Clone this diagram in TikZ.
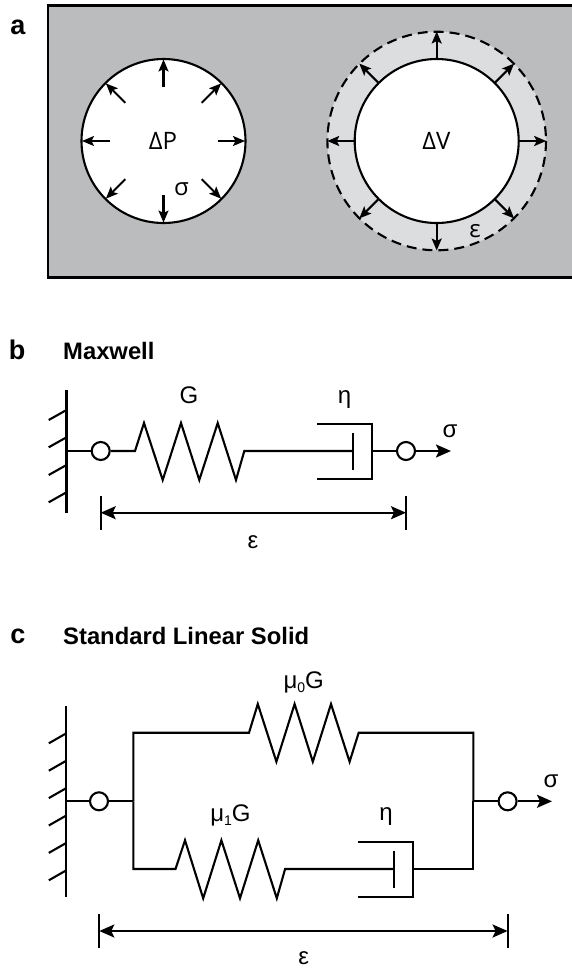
\documentclass[tikz,border=0pt]{standalone}
\usepackage{fontspec}
\setmainfont{Liberation Sans}
\newfontfamily\softfont{Open Sans}
\usetikzlibrary{arrows.meta,calc}
\definecolor{matrixgray}{HTML}{BBBCBE}
\definecolor{ringgray}{HTML}{DCDDDF}
\tikzset{
  ln/.style={line width=2.1pt,black,line join=miter},
  hinge/.style={circle,draw=black,line width=2.1pt,fill=white,minimum size=18pt,inner sep=0pt},
  small arrow/.style={ln,-{Stealth[length=12pt,width=10pt,inset=2.5pt]}},
  big arrow/.style={ln,-{Stealth[length=15pt,width=13pt,inset=3pt]}},
  both arrow/.style={ln,{Stealth[length=15pt,width=13pt,inset=3pt]}-{Stealth[length=15pt,width=13pt,inset=3pt]}},
  panel/.style={font=\fontsize{27}{27}\selectfont\bfseries,inner sep=0pt},
  head/.style={font=\fontsize{23.8}{24}\selectfont\bfseries,inner sep=0pt,anchor=west},
  lab/.style={font=\fontsize{24}{24}\selectfont,inner sep=0pt},
  softlab/.style={font=\fontsize{24}{24}\softfont,inner sep=0pt}
}
\begin{document}
\begin{tikzpicture}[x=1pt,y=-1pt]
\useasboundingbox (0,0) rectangle (571,970);
\fill[white] (0,0) rectangle (571,970);
% ---------- panel a
\node[panel] (la) at (18,27) {a};
\draw[line width=2.4pt,fill=matrixgray] (48,5.5) rectangle (575,277.5);
\coordinate (c1) at (163.5,141);
\coordinate (c2) at (436.7,141);
\fill[ringgray] (c2) circle[radius=109.3];
\draw[line width=2.1pt,dash pattern=on 10pt off 6pt] (c2) circle[radius=109.3];
\draw[ln,fill=white] (c1) circle[radius=82];
\draw[ln,fill=white] (c2) circle[radius=82];
\foreach \a in {0,45,...,315}{
  \draw[small arrow] ($(c1)+(\a:54)$) -- ($(c1)+(\a:81.5)$);
  \draw[small arrow] ($(c2)+(\a:82)$) -- ($(c2)+(\a:109.5)$);
}
\node[softlab] (dp) at (163,141) {ΔP};
\node[softlab] (dv) at (436.5,141) {ΔV};
\node[softlab] (sa) at (181.5,189) {σ};
\node[softlab] (ea) at (475,231) {ε};
% ---------- panel b
\node[panel] (lb) at (17,350) {b};
\node[head] (hb) at (63,351) {Maxwell};
\draw[ln] (66.5,390) -- (66.5,512.7);
\foreach \y in {420,447.3,475,502.3}{\draw[ln] (48.7,\y) -- (66.5,\y-10);}
\coordinate (wb) at (66.5,451);
\node[hinge] (hb1) at (100.7,451) {};
\node[hinge] (hb2) at (406,451) {};
\coordinate (endb) at (451,451);
\coordinate (spb) at (135,451);
\coordinate (plb) at (353,451);
\coordinate (dbr) at (372.3,451);
\draw[ln] (wb) -- (hb1);
\draw[ln] (hb1) -- (spb) -- (144,423) -- (162.7,480) -- (181,423) -- (199.3,480) -- (217.7,423) -- (236,480) -- (244.3,451) -- (plb);
\draw[ln] (353,432.7) -- (353,470);
\draw[ln] (317,423.7) -- (372.3,423.7) -- (372.3,479) -- (317,479);
\draw[ln] (dbr) -- (hb2);
\draw[big arrow] (hb2) -- (endb);
\coordinate (tb1) at (100.7,512.7);
\coordinate (tb2) at (406,512.7);
\draw[ln] (100.7,496) -- (100.7,529.5);
\draw[ln] (406,496) -- (406,529.5);
\draw[both arrow] (tb1) -- (tb2);
\node[lab] (Gb) at (189,395) {G};
\node[lab] (nb) at (344.5,400) {η};
\node[lab] (sb) at (450,431) {σ};
\node[lab] (eb) at (253,542) {ε};
% ---------- panel c
\node[panel] (lc) at (18,636) {c};
\node[head] (hc) at (63,636) {Standard Linear Solid};
\draw[ln] (66.3,706) -- (66.3,896.7);
\foreach \y in {733.3,760.7,788.1,815.5,842.9,870.3}{\draw[ln] (48.8,\y+10) -- (66.3,\y);}
\coordinate (wc) at (66.3,801.3);
\node[hinge] (hc1) at (99,801.3) {};
\node[hinge] (hc2) at (507.6,801.3) {};
\coordinate (jl) at (133.3,801.3);
\coordinate (jr) at (473.4,801.3);
\coordinate (endc) at (552,801.3);
\draw[ln] (wc) -- (hc1);
\draw[ln] (hc1) -- (jl);
\draw[ln] (jr) -- (hc2);
\draw[big arrow] (hc2) -- (endc);
\draw[ln] (jl) -- (133.3,732.7) -- (249,732.7) -- (257.8,704) -- (276.4,761.7) -- (294.6,704) -- (312.8,761.7) -- (331,704) -- (349.6,761.7) -- (358.7,732.7) -- (473.4,732.7) -- (jr);
\draw[ln] (jl) -- (133.3,869) -- (175.5,869) -- (185,840.3) -- (203.2,898.3) -- (221.4,840.3) -- (240,898.3) -- (258.2,840.3) -- (276.8,898.3) -- (285.1,869) -- (394.4,869);
\draw[ln] (394.4,850.7) -- (394.4,888.3);
\draw[ln] (358.3,841.7) -- (413,841.7) -- (413,896.7) -- (358.3,896.7);
\draw[ln] (413,869) -- (473.4,869) -- (jr);
\coordinate (tc1) at (99.3,931);
\coordinate (tc2) at (507.6,931);
\draw[ln] (99.3,914.3) -- (99.3,947.7);
\draw[ln] (507.6,914.3) -- (507.6,947.7);
\draw[both arrow] (tc1) -- (tc2);
\node[lab] (G0) at (303.7,682) {μ\raisebox{-4pt}{\fontsize{14}{14}\selectfont 0}G};
\node[lab] (G1) at (230.5,815) {μ\raisebox{-4pt}{\fontsize{14}{14}\selectfont 1}G};
\node[lab] (nc) at (386,817) {η};
\node[lab] (sc) at (551,781) {σ};
\node[lab] (ec) at (303.7,958) {ε};
\end{tikzpicture}
\end{document}
